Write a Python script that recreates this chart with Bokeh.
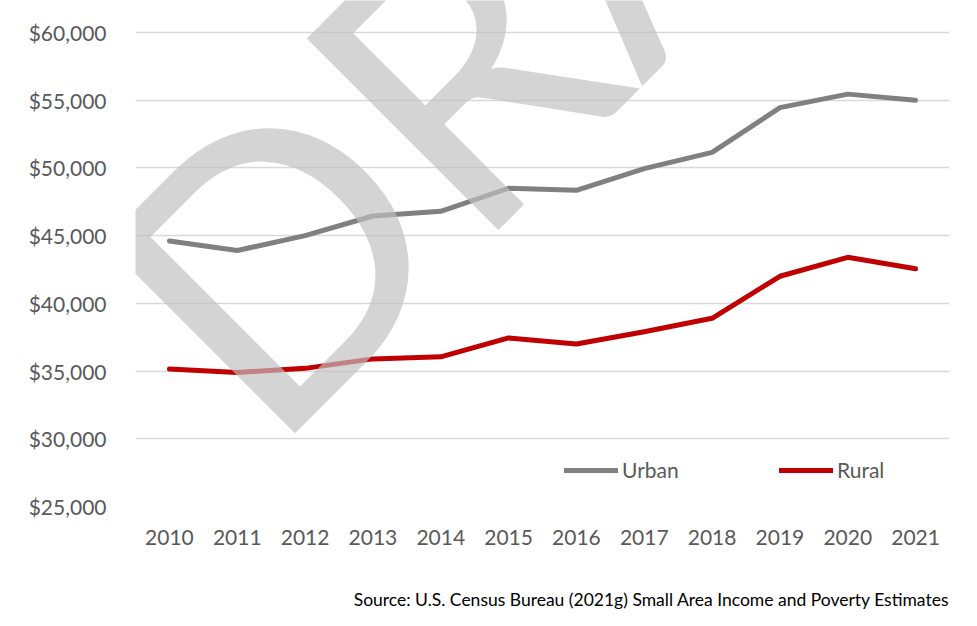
import math
from bokeh.plotting import figure
from bokeh.models import (FactorRange, Range1d, FixedTicker, NumeralTickFormatter,
                          Legend, LegendItem, Label, Title)
from bokeh.embed import file_html
from bokeh.resources import INLINE

# ---- data ----
years = ["2010", "2011", "2012", "2013", "2014", "2015",
         "2016", "2017", "2018", "2019", "2020", "2021"]
urban = [44600, 43900, 45000, 46450, 46800, 48500,
         48350, 49950, 51150, 54450, 55450, 55000]
rural = [35150, 34900, 35200, 35900, 36050, 37450,
         37000, 37900, 38900, 42000, 43400, 42550]
y_ticks = [25000, 30000, 35000, 40000, 45000, 50000, 55000, 60000]
series_names = ["Urban", "Rural"]
source_text = "Source: U.S. Census Bureau (2021g) Small Area Income and Poverty Estimates"
watermark_text = "DRAFT"

FONT = "Lato"
TICK_COLOR = "#595959"

# plot area: 474 px for the 25k..60k span; frame extends 32 px above the top gridline
px_per_unit = 474 / (y_ticks[-1] - y_ticks[0])
y_top = y_ticks[-1] + 32 / px_per_unit

p = figure(x_range=FactorRange(*years), y_range=Range1d(y_ticks[0], y_top),
           width=975, height=624, frame_width=814, frame_height=506,
           min_border_left=135, min_border_right=26, min_border_top=0, min_border_bottom=118,
           output_backend="svg", toolbar_location=None)
p.outline_line_color = None
p.background_fill_color = "white"
p.border_fill_color = "white"

# grid
p.xgrid.visible = False
p.ygrid.ticker = FixedTicker(ticks=y_ticks)
p.ygrid.grid_line_color = "#d9d9d9"
p.ygrid.grid_line_width = 1.5

# axes
p.yaxis.ticker = FixedTicker(ticks=y_ticks)
p.yaxis.formatter = NumeralTickFormatter(format="$0,0")
for ax in (p.xaxis[0], p.yaxis[0]):
    ax.axis_line_color = None
    ax.major_tick_line_color = None
    ax.minor_tick_line_color = None
    ax.major_label_text_font = FONT
    ax.major_label_text_font_size = "21px"
    ax.major_label_text_color = TICK_COLOR
p.yaxis.major_label_standoff = 23
p.xaxis.major_label_standoff = 17

# lines
r_urban = p.line(years, urban, line_color="#808080", line_width=5,
                 line_cap="round", line_join="round")
r_rural = p.line(years, rural, line_color="#c00000", line_width=5,
                 line_cap="round", line_join="round")

legend = Legend(items=[LegendItem(label=series_names[0], renderers=[r_urban]),
                       LegendItem(label=series_names[1], renderers=[r_rural])],
                orientation="horizontal", location=(429, 24),
                glyph_width=54, glyph_height=22, label_height=22,
                label_standoff=4, label_width=157, spacing=0,
                padding=0, margin=0, border_line_color=None,
                background_fill_alpha=0,
                label_text_font=FONT, label_text_font_size="21px",
                label_text_color=TICK_COLOR)
p.add_layout(legend)

# source note
p.add_layout(Title(text=source_text, align="right", text_font=FONT,
                   text_font_size="17.5px", text_font_style="normal",
                   text_color="black", standoff=78), "below")

# watermark
p.add_layout(Label(x=0.47, y=36220, text=watermark_text, angle=math.pi / 4,
                   text_align="left", text_baseline="alphabetic",
                   text_font=FONT, text_font_size="378px",
                   text_color="#bfbfbf", text_alpha=0.68))

open("out.html", "w").write(file_html(p, INLINE))
